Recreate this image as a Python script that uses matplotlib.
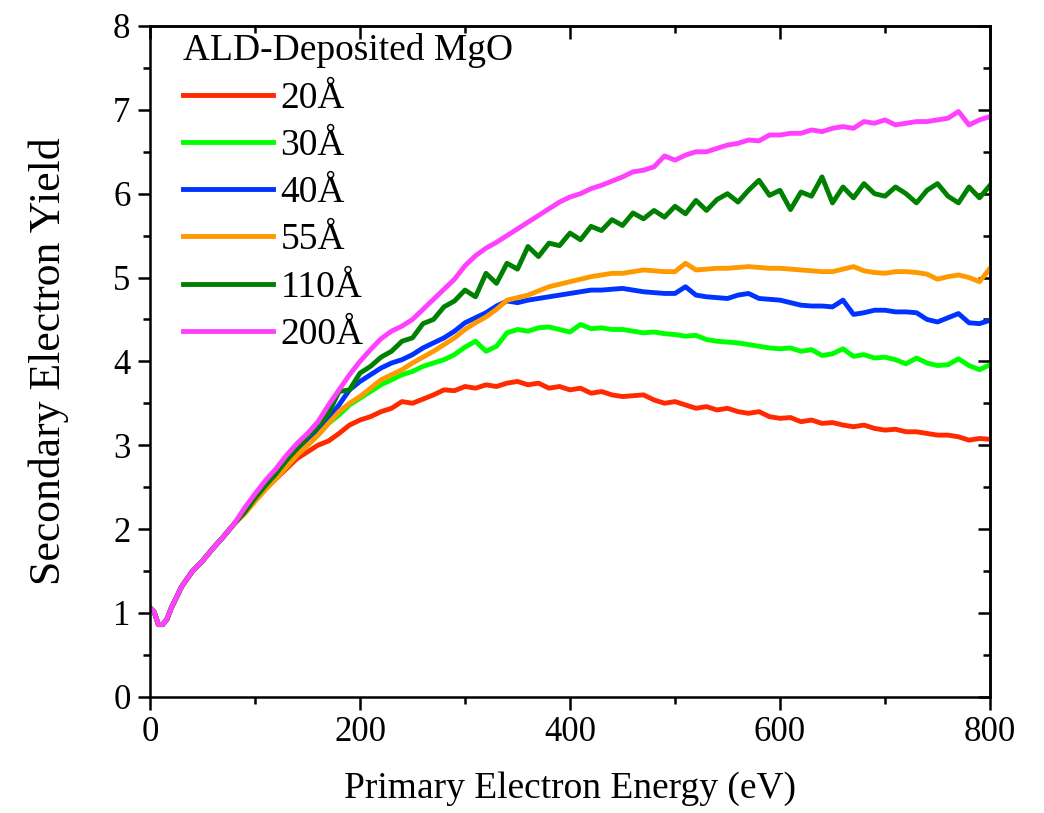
import matplotlib
matplotlib.use("Agg")
import matplotlib.pyplot as plt
from matplotlib.ticker import MultipleLocator

plt.rcParams['font.family'] = ['Liberation Serif', 'DejaVu Serif']

# Primary electron energy grid (eV)
energy = [0, 4, 8, 12, 16] + list(range(20, 801, 10))

start = [1.06, 1.01, 0.86, 0.86, 0.92, 1.05, 1.31, 1.49, 1.62, 1.77, 1.91, 2.06, 2.20]

sey_20 = start[:-1] + [2.19, 2.34, 2.48, 2.60, 2.72, 2.84, 2.92, 3.00, 3.05, 3.14, 3.24,
    3.30, 3.34, 3.40, 3.44, 3.52, 3.50, 3.55, 3.60, 3.66, 3.65,
    3.70, 3.68, 3.72, 3.70, 3.74, 3.76, 3.72, 3.74, 3.68, 3.70,
    3.66, 3.68, 3.62, 3.64, 3.60, 3.58, 3.59, 3.60, 3.54, 3.50,
    3.52, 3.48, 3.44, 3.46, 3.42, 3.44, 3.40, 3.38, 3.40, 3.34,
    3.32, 3.33, 3.28, 3.30, 3.26, 3.27, 3.24, 3.22, 3.24, 3.20,
    3.18, 3.19, 3.16, 3.16, 3.14, 3.12, 3.12, 3.10, 3.06, 3.08, 3.07]

sey_30 = start + [2.36, 2.50, 2.64, 2.78, 2.90, 3.00, 3.12, 3.26, 3.36, 3.48,
    3.56, 3.64, 3.72, 3.78, 3.84, 3.88, 3.94, 3.98, 4.02, 4.08,
    4.17, 4.24, 4.12, 4.18, 4.34, 4.38, 4.36, 4.40, 4.41, 4.38,
    4.35, 4.44, 4.39, 4.40, 4.38, 4.38, 4.36, 4.34, 4.35, 4.33,
    4.32, 4.30, 4.31, 4.26, 4.24, 4.23, 4.22, 4.20, 4.18, 4.16,
    4.15, 4.16, 4.12, 4.14, 4.07, 4.09, 4.15, 4.06, 4.08, 4.04,
    4.05, 4.02, 3.97, 4.04, 3.98, 3.95, 3.96, 4.03, 3.95, 3.90, 3.96]

sey_40 = start + [2.38, 2.52, 2.66, 2.80, 2.94, 3.06, 3.18, 3.32, 3.48, 3.66,
    3.76, 3.84, 3.92, 3.98, 4.02, 4.08, 4.16, 4.22, 4.28, 4.36,
    4.46, 4.52, 4.58, 4.66, 4.72, 4.70, 4.73, 4.75, 4.77, 4.79,
    4.81, 4.83, 4.85, 4.85, 4.86, 4.87, 4.85, 4.83, 4.82, 4.81,
    4.81, 4.89, 4.79, 4.77, 4.76, 4.75, 4.79, 4.81, 4.75, 4.74,
    4.73, 4.70, 4.67, 4.66, 4.66, 4.65, 4.73, 4.56, 4.58, 4.61,
    4.61, 4.59, 4.59, 4.58, 4.50, 4.47, 4.52, 4.57, 4.46, 4.45, 4.49]

sey_55 = start[:-1] + [2.18, 2.33, 2.47, 2.60, 2.74, 2.88, 3.00, 3.12, 3.26, 3.40, 3.50,
    3.58, 3.68, 3.78, 3.84, 3.90, 3.98, 4.05, 4.12, 4.20, 4.28,
    4.38, 4.46, 4.53, 4.62, 4.73, 4.76, 4.79, 4.84, 4.89, 4.92,
    4.95, 4.98, 5.01, 5.03, 5.05, 5.05, 5.07, 5.09, 5.08, 5.07,
    5.07, 5.17, 5.09, 5.10, 5.11, 5.11, 5.12, 5.13, 5.12, 5.11,
    5.11, 5.10, 5.09, 5.08, 5.07, 5.07, 5.10, 5.13, 5.08, 5.06,
    5.05, 5.07, 5.07, 5.06, 5.04, 4.98, 5.01, 5.03, 5.00, 4.95, 5.11]

sey_110 = start + [2.37, 2.52, 2.66, 2.82, 2.96, 3.10, 3.22, 3.38, 3.64, 3.66,
    3.86, 3.94, 4.05, 4.12, 4.24, 4.28, 4.45, 4.50, 4.65, 4.72,
    4.85, 4.77, 5.05, 4.93, 5.17, 5.10, 5.37, 5.25, 5.41, 5.38,
    5.53, 5.45, 5.61, 5.56, 5.69, 5.62, 5.77, 5.70, 5.80, 5.72,
    5.85, 5.76, 5.92, 5.80, 5.93, 6.00, 5.90, 6.04, 6.16, 5.98,
    6.04, 5.81, 6.02, 5.97, 6.20, 5.89, 6.08, 5.95, 6.12, 6.00,
    5.97, 6.08, 6.00, 5.89, 6.04, 6.12, 5.97, 5.89, 6.08, 5.95, 6.10]

sey_200 = start[:-1] + [2.25, 2.42, 2.58, 2.72, 2.88, 3.02, 3.14, 3.28, 3.48, 3.66, 3.84,
    4.00, 4.14, 4.27, 4.36, 4.42, 4.50, 4.62, 4.74, 4.86, 4.98,
    5.14, 5.26, 5.35, 5.42, 5.50, 5.58, 5.66, 5.74, 5.82, 5.90,
    5.96, 6.00, 6.06, 6.10, 6.15, 6.20, 6.26, 6.28, 6.32, 6.45,
    6.40, 6.46, 6.50, 6.50, 6.54, 6.58, 6.60, 6.64, 6.63, 6.70,
    6.70, 6.72, 6.72, 6.76, 6.74, 6.78, 6.80, 6.78, 6.86, 6.84,
    6.88, 6.82, 6.84, 6.86, 6.86, 6.88, 6.90, 6.98, 6.82, 6.88, 6.92]

labels = ["20Å", "30Å", "40Å", "55Å", "110Å", "200Å"]
colors = ["#ff2a00", "#00ff00", "#0033ff", "#ff9900", "#008000", "#ff40ff"]
series = [sey_20, sey_30, sey_40, sey_55, sey_110, sey_200]

fig = plt.figure(figsize=(10.44, 8.13), dpi=100)
ax = fig.add_axes([150 / 1044, 1 - 696.7 / 813, 840 / 1044, 670.7 / 813])

for ys, lab, col in zip(series, labels, colors):
    ax.plot(energy, ys, color=col, lw=3.5, label=lab, solid_joinstyle='round')

ax.set_xlim(0, 800)
ax.set_ylim(0, 8)
ax.xaxis.set_major_locator(MultipleLocator(200))
ax.xaxis.set_minor_locator(MultipleLocator(100))
ax.yaxis.set_major_locator(MultipleLocator(1))
ax.yaxis.set_minor_locator(MultipleLocator(0.5))

for sp in ax.spines.values():
    sp.set_linewidth(1.8)

ax.tick_params(which='both', direction='out', width=1.8, labelsize=25,
               top=False, right=False)
ax.tick_params(which='major', length=9, pad=5)
ax.tick_params(which='minor', length=5)

# mirrored axes with inward ticks
top = ax.secondary_xaxis('top')
top.xaxis.set_major_locator(MultipleLocator(200))
top.xaxis.set_minor_locator(MultipleLocator(100))
top.tick_params(which='both', direction='in', width=1.8, labeltop=False)
top.tick_params(which='major', length=9)
top.tick_params(which='minor', length=5)
top.spines['top'].set_linewidth(1.8)

right = ax.secondary_yaxis('right')
right.yaxis.set_major_locator(MultipleLocator(1))
right.yaxis.set_minor_locator(MultipleLocator(0.5))
right.tick_params(which='both', direction='in', width=1.8, labelright=False)
right.tick_params(which='major', length=9)
right.tick_params(which='minor', length=5)
right.spines['right'].set_linewidth(1.8)

ax.set_xlabel("Primary Electron Energy (eV)", fontsize=27, labelpad=16)
ax.set_ylabel("Secondary Electron Yield", fontsize=31.5, labelpad=32)

leg = ax.legend(loc='upper left', frameon=False, fontsize=27,
                title="ALD-Deposited MgO", title_fontsize=27,
                handlelength=2.4, handletextpad=0.2, labelspacing=0.34,
                borderpad=0, borderaxespad=0,
                bbox_to_anchor=(33 / 840, 0.989), alignment='left')
for h in leg.get_lines():
    h.set_linewidth(3.5)

fig.savefig("out.png", dpi=100)
